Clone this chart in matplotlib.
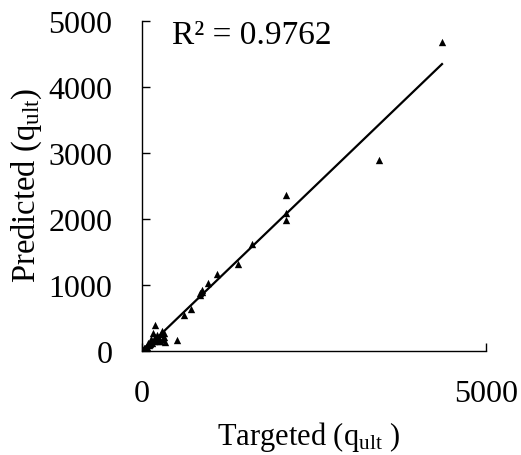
import numpy as np
import matplotlib
matplotlib.use("Agg")
import matplotlib.pyplot as plt

plt.rcParams['font.family'] = ['Liberation Serif', 'DejaVu Serif']
plt.rcParams['mathtext.fontset'] = 'custom'
plt.rcParams['mathtext.rm'] = 'Liberation Serif'
plt.rcParams['mathtext.it'] = 'Liberation Serif:italic'

# Targeted vs Predicted q_ult
targeted = [4360, 3445, 2097, 2097, 2100, 1608, 1395, 1094, 964, 872, 852, 840, 880,
            712, 619, 517, 193, 169, 329, 329, 339, 241,
            10, 20, 30, 35, 50, 60, 70, 80, 90, 100, 120, 140, 150, 180, 190,
            200, 220, 250, 260, 280, 300, 310]
predicted = [4680, 2894, 2359, 2090, 1988, 1623, 1318, 1177, 1035, 933, 846, 880, 900,
             633, 542, 172, 405, 279, 279, 213, 137, 161,
             5, 15, 50, 30, 45, 70, 40, 60, 120, 90, 110, 180, 130, 160, 220,
             170, 250, 200, 150, 260, 310, 190]
r2_text = "R² = 0.9762"

x = np.array(targeted, dtype=float)
y = np.array(predicted, dtype=float)

fig = plt.figure(figsize=(5.21, 4.56), dpi=100)
ax = fig.add_axes([0.272, 0.2274, 0.661, 0.7244])

ax.scatter(x, y, marker='^', s=28, color='black', zorder=3, linewidths=0)
coef = np.polyfit(x, y, 1)
xl = np.array([0.0, x.max()])
ax.plot(xl, np.polyval(coef, xl), color='black', lw=1.6, zorder=2)

ax.set_xlim(0, 5000)
ax.set_ylim(0, 5000)
ax.set_xticks([0, 5000])
ax.set_yticks([0, 1000, 2000, 3000, 4000, 5000])
ax.spines['top'].set_visible(False)
ax.spines['right'].set_visible(False)
for s in ['left', 'bottom']:
    ax.spines[s].set_linewidth(1.0)
ax.tick_params(axis='y', direction='in', length=6, width=1.0, pad=21, labelsize=23)
ax.tick_params(axis='x', direction='in', length=6, width=1.0, pad=20, labelsize=23)

ax.text(172/521 * 521 / 344 - 141.7 / 344, 1 - (36 - 22.7) / 329.6, r2_text,
        transform=ax.transAxes, fontsize=24, va='center', ha='left')

fig.text(309/521, 1 - 437/456, r'Targeted (q$_{\mathrm{ult}}$ )', fontsize=22, ha='center', va='center')
fig.text(26.7/521, 1 - 185/456, r'Predicted (q$_{\mathrm{ult}}$)', fontsize=23.5, ha='center', va='center',
         rotation=90)

fig.savefig('out.png', dpi=100)
